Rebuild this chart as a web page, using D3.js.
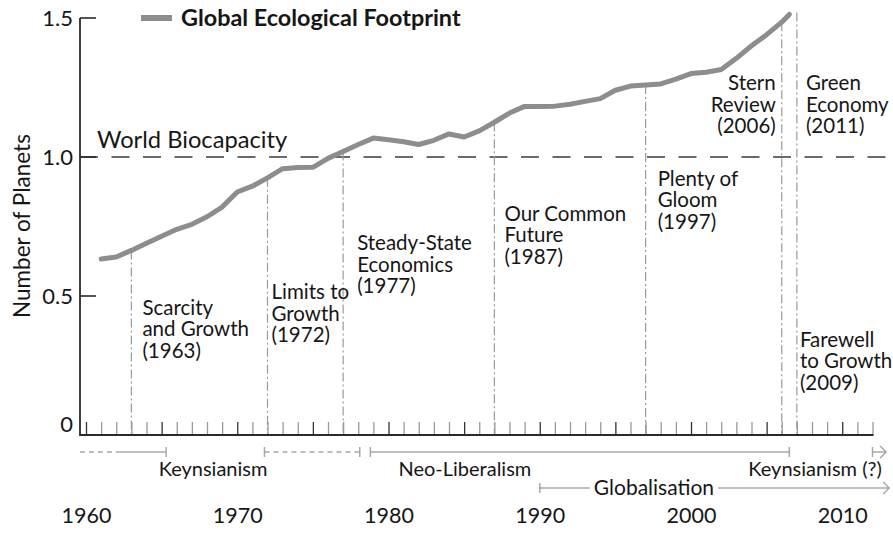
<!DOCTYPE html>
<html><head><meta charset="utf-8">
<script src="https://cdn.jsdelivr.net/npm/d3@7"></script>
<style>
body{margin:0;background:#fff}
svg{display:block}
text{font-family:Lato,'Noto Sans',sans-serif;fill:#161616}
</style>
</head><body>
<svg id="chart" width="893" height="534"></svg>
<script>
// ---------------- data ----------------
const years = [1961,1962,1963,1964,1965,1966,1967,1968,1969,1970,1971,1972,1973,1974,1975,1976,1977,1978,1979,1980,
  1981,1982,1983,1984,1985,1986,1987,1988,1989,1990,1991,1992,1993,1994,1995,1996,1997,1998,1999,2000,2001,2002,2003,2004,2005,2006,2006.5];
const footprint = [0.633,0.64,0.664,0.69,0.715,0.74,0.758,0.785,0.82,0.874,0.895,0.925,0.958,0.962,0.963,0.995,1.02,1.045,1.068,1.062,
  1.055,1.045,1.06,1.083,1.072,1.094,1.125,1.158,1.182,1.182,1.183,1.19,1.2,1.21,1.24,1.255,1.259,1.263,1.28,1.3,1.305,1.315,1.355,1.4,1.44,1.485,1.513];
const biocapacity = 1.0;
const yTickValues = [0, 0.5, 1.0, 1.5];
const yTickLabels = ["0", "0.5", "1.0", "1.5"];
const decadeTicks = [1960, 1970, 1980, 1990, 2000, 2010];
const eventYears = [1963, 1972, 1977, 1987, 1997, 2006, 2007];
const eventTops  = [0.664, 0.925, 1.02, 1.125, 1.259, 1.485, 1.52];
const eventTexts = [
  ["Scarcity","and Growth","(1963)"],
  ["Limits to","Growth","(1972)"],
  ["Steady-State","Economics","(1977)"],
  ["Our Common","Future","(1987)"],
  ["Plenty of","Gloom","(1997)"],
  ["Stern","Review","(2006)"],
  ["Green","Economy","(2011)"],
  ["Farewell","to Growth","(2009)"]
];
const eventTextAnchorYear = [1963, 1972, 1977, 1987, 1997, 2006, 2007, 2007];
const eventTextValue = [0.432, 0.489, 0.665, 0.77, 0.896, 1.241, 1.241, 0.317];
// period bars (years)
const periodSegments = [
  {from:1959.6, to:1962.2, dashed:true,  capStart:false, capEnd:false, arrow:false},
  {from:1962.2, to:1965.3, dashed:false, capStart:false, capEnd:true,  arrow:false},
  {from:1971.8, to:1978.1, dashed:true,  capStart:true,  capEnd:true,  arrow:false},
  {from:1978.8, to:2006.5, dashed:false, capStart:true,  capEnd:true,  arrow:false},
  {from:2012.0, to:2012.9, dashed:false, capStart:true,  capEnd:false, arrow:true}
];
const periodLabels = ["Keynsianism", "Neo-Liberalism", "Keynsianism (?)"];
const periodLabelYears = [1968.4, 1985.05, 2008.2];
const globalisation = {label:"Globalisation", from:1990, to:2013.1, labelYear:1997.55};

// ---------------- layout ----------------
const svg = d3.select("#chart");
const FONT = "Lato,'Noto Sans',sans-serif";
const axisX0 = 80, axisYBottom = 435;
const x = d3.scaleLinear().domain([1960, 2012]).range([86, 872.5]);
const y = d3.scaleLinear().domain([0, 1.5]).range([axisYBottom, 18]);
const lineGray = "#8d8d8d", lightGray = "#a8a8a8", dark = "#2a2a2a";

// y label
svg.append("text").attr("transform", "translate(30,226) rotate(-90)")
  .attr("text-anchor", "middle").attr("font-size", 22.5).text("Number of Planets");

// biocapacity dashed line
svg.append("line").attr("x1", axisX0).attr("x2", 893).attr("y1", y(biocapacity)).attr("y2", y(biocapacity))
  .attr("stroke", "#3a3a3a").attr("stroke-width", 1.6).attr("stroke-dasharray", "18,13.5");
svg.append("text").attr("x", 97).attr("y", y(biocapacity) - 9).attr("font-size", 23.7).text("World Biocapacity");

// event lines
const dashDot = "9,3,2,3";
svg.append("g").selectAll("line").data(eventYears).join("line")
  .attr("x1", d => x(d)).attr("x2", d => x(d))
  .attr("y1", (d, i) => y(eventTops[i])).attr("y2", axisYBottom)
  .attr("stroke", "#9a9a9a").attr("stroke-width", 1.2).attr("stroke-dasharray", dashDot);

// event texts
const labelOffsets = [11, 4, 14, 10, 12, -6, 9, 3];
eventTexts.forEach((lines, i) => {
  const t = svg.append("text").attr("font-size", 20.5)
    .attr("x", x(eventTextAnchorYear[i]) + labelOffsets[i])
    .attr("y", y(eventTextValue[i]))
    .attr("text-anchor", labelOffsets[i] < 0 ? "end" : "start");
  lines.forEach((s, j) => {
    t.append("tspan").attr("x", x(eventTextAnchorYear[i]) + labelOffsets[i]).attr("dy", j === 0 ? 0 : 21.5).text(s);
  });
});

// x axis ticks (every year)
const allYears = d3.range(1960, 2013);
const xAxis = d3.axisBottom(x).tickValues(allYears).tickSize(-13).tickFormat("");
const gx = svg.append("g").attr("transform", `translate(0,${axisYBottom})`).call(xAxis);
gx.select(".domain").remove();
gx.selectAll(".tick line").attr("stroke", d => d % 5 === 0 ? "#333" : "#9a9a9a").attr("stroke-width", 1.3);
svg.append("line").attr("x1", axisX0).attr("x2", x(2012) + 1).attr("y1", axisYBottom).attr("y2", axisYBottom)
  .attr("stroke", dark).attr("stroke-width", 1.8);

// decade labels
const xLab = d3.axisBottom(x).tickValues(decadeTicks).tickSize(0).tickFormat(d3.format("d"));
const gxl = svg.append("g").attr("transform", `translate(0,${axisYBottom + 70})`).call(xLab);
gxl.select(".domain").remove();
gxl.selectAll("text").attr("font-size", 21.5).attr("font-family", FONT).attr("fill", "#161616").attr("dy", "0.71em");

// y axis
const yAxis = d3.axisLeft(y).tickValues(yTickValues).tickSize(0).tickPadding(7)
  .tickFormat((d, i) => yTickLabels[i]);
const gy = svg.append("g").attr("transform", `translate(${axisX0},0)`).call(yAxis);
gy.select(".domain").remove();
gy.selectAll("text").attr("font-size", 22).attr("font-family", FONT).attr("fill", "#161616")
  .attr("dy", d => d === 0 ? "-0.15em" : "0.32em");
svg.append("g").selectAll("line").data(yTickValues.filter(d => d > 0)).join("line")
  .attr("x1", axisX0).attr("x2", axisX0 + 16).attr("y1", d => y(d)).attr("y2", d => y(d))
  .attr("stroke", dark).attr("stroke-width", 1.6);
svg.append("line").attr("x1", axisX0).attr("x2", axisX0).attr("y1", y(1.5)).attr("y2", axisYBottom + 1)
  .attr("stroke", dark).attr("stroke-width", 1.8);

// footprint curve
const line = d3.line().x((d, i) => x(years[i])).y(d => y(d));
svg.append("path").datum(footprint).attr("d", line).attr("fill", "none")
  .attr("stroke", lineGray).attr("stroke-width", 5).attr("stroke-linejoin", "round").attr("stroke-linecap", "round");

// legend
svg.append("line").attr("x1", 141).attr("x2", 172).attr("y1", y(1.5)).attr("y2", y(1.5))
  .attr("stroke", lineGray).attr("stroke-width", 6);
svg.append("text").attr("x", 181).attr("y", 25.5).attr("font-size", 23.4).attr("font-weight", "bold")
  .text("Global Ecological Footprint");

// period bars
const row1 = 452, row2 = 488;
const pg = svg.append("g").attr("stroke", lightGray).attr("stroke-width", 1.5).attr("fill", "none");
periodSegments.forEach(s => {
  pg.append("line").attr("x1", x(s.from)).attr("x2", x(s.to)).attr("y1", row1).attr("y2", row1)
    .attr("stroke-dasharray", s.dashed ? "5,4" : null);
  if (s.capStart) pg.append("line").attr("x1", x(s.from)).attr("x2", x(s.from)).attr("y1", row1 - 5).attr("y2", row1 + 5);
  if (s.capEnd) pg.append("line").attr("x1", x(s.to)).attr("x2", x(s.to)).attr("y1", row1 - 5).attr("y2", row1 + 5);
  if (s.arrow) pg.append("path").attr("d", `M${x(s.to) - 6},${row1 - 6}L${x(s.to)},${row1}L${x(s.to) - 6},${row1 + 6}`);
});
svg.append("g").selectAll("text").data(periodLabels).join("text")
  .attr("x", (d, i) => x(periodLabelYears[i])).attr("y", row1 + 24).attr("text-anchor", "middle")
  .attr("font-size", 20).text(d => d);

const gl = svg.append("text").attr("x", x(globalisation.labelYear)).attr("y", row2 + 7).attr("text-anchor", "middle")
  .attr("font-size", 21).text(globalisation.label);
const bb = gl.node().getBBox();
pg.append("line").attr("x1", x(globalisation.from)).attr("x2", bb.x - 4).attr("y1", row2).attr("y2", row2);
pg.append("line").attr("x1", bb.x + bb.width + 4).attr("x2", x(globalisation.to)).attr("y1", row2).attr("y2", row2);
pg.append("line").attr("x1", x(globalisation.from)).attr("x2", x(globalisation.from)).attr("y1", row2 - 5).attr("y2", row2 + 5);
pg.append("path").attr("d", `M${x(globalisation.to) - 6},${row2 - 6}L${x(globalisation.to)},${row2}L${x(globalisation.to) - 6},${row2 + 6}`);
</script>
</body></html>
